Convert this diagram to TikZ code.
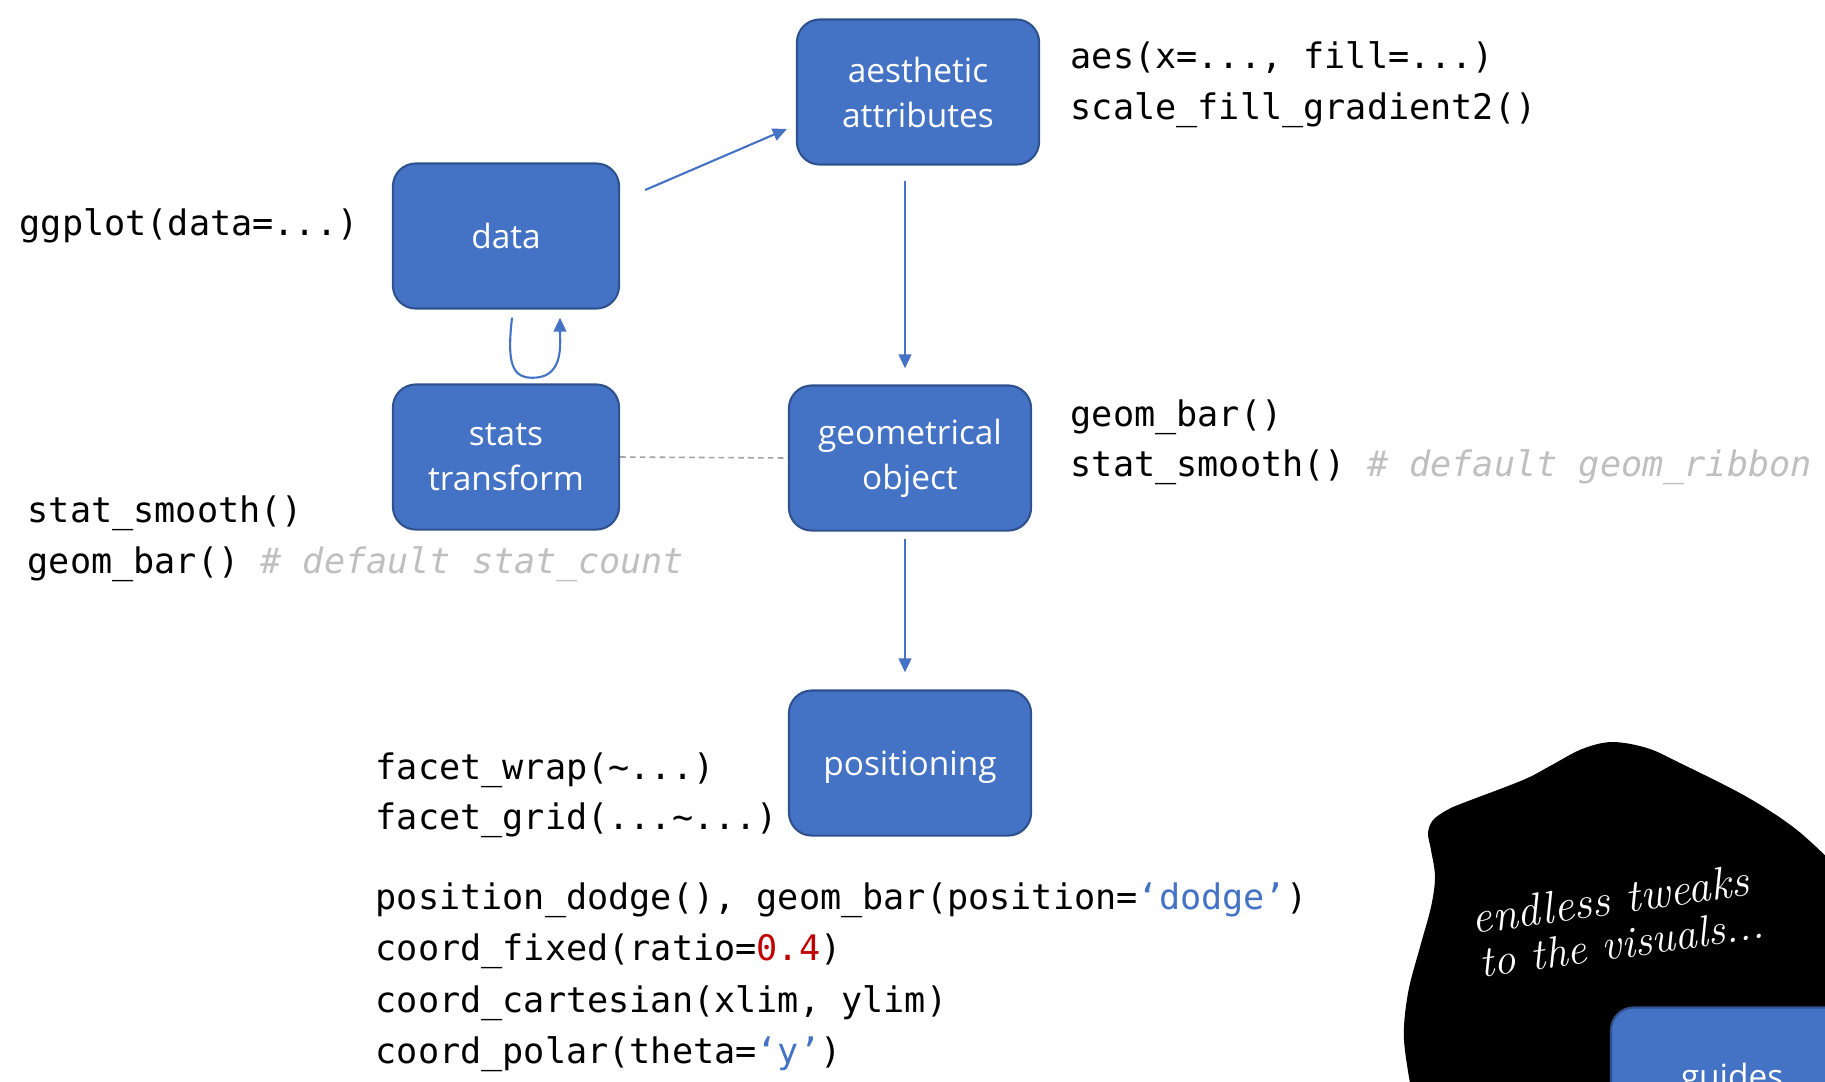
\documentclass[tikz,border=0pt]{standalone}
\usepackage{fontspec}
\setmonofont{DejaVu Sans Mono}
\newfontfamily\boxfamily{Open Sans}
\usepackage{xcolor}
\usetikzlibrary{arrows.meta}

\definecolor{boxblue}{HTML}{4472C4}
\definecolor{boxedge}{HTML}{2F528F}
\definecolor{commentgray}{HTML}{BFBFBF}
\definecolor{numred}{HTML}{C00000}

\newcommand{\codecomment}[1]{\textcolor{commentgray}{\itshape\#~#1}}

\tikzset{
  stage/.style={draw=boxedge, fill=boxblue, line width=0.6pt, rounded corners=6.5pt,
    text=white, align=center, font=\boxfamily\fontsize{9.5}{12.8}\selectfont,
    minimum width=2.42cm, minimum height=1.45cm, inner sep=0pt},
  code/.style={anchor=base west, inner sep=0pt, font=\ttfamily\fontsize{10}{12}\selectfont},
  flow/.style={draw=boxblue, line width=0.6pt, -{Triangle[length=4pt,width=3.6pt]}},
  hand/.style={anchor=base west, inner sep=0pt, text=white, rotate=8,
    font=\itshape\fontsize{13}{13}\selectfont},
}

\begin{document}
\begin{tikzpicture}[x=0.01cm, y=-0.01cm]
\useasboundingbox (0,0) rectangle (1825,1081);
\clip (0,0) rectangle (1825,1081);

% BLOB IN THE CORNER
\fill[black] plot[smooth, tension=0.55] coordinates {(1413,1100) (1404,1040) (1408,993)
  (1420,947) (1431,907) (1435,877) (1431,850) (1428,833) (1433,820) (1447,810) (1463,803)
  (1523,780) (1550,766) (1582,749) (1612,742) (1647,748) (1680,763) (1747,797) (1797,830)
  (1840,870)} -- (1900,870) -- (1900,1100) -- cycle;
\node[hand] (tweaks) at (1473,934) {endless tweaks};
\node[hand, font=\itshape\fontsize{12.5}{13}\selectfont] (visuals) at (1481,978) {to the visuals...};

% BOXES
\node[stage] (aes) at (918,92) {aesthetic\\attributes};
\node[stage, minimum width=2.26cm] (data) at (506,236) {data};
\node[stage, minimum width=2.26cm] (stats) at (506,457) {stats\\transform};
\node[stage] (geom) at (910,458) {geometrical\\object};
\node[stage, text depth=0pt] (pos) at (910,763) {positioning};
\node[stage] (guides) at (1732,1080) {guides};

% CONNECTORS
\draw[flow] ([shift={(25,-46)}]data.east) -- ([shift={(-9,37)}]aes.west);
\draw[flow] ([shift={(-13,15)}]aes.south) -- ([shift={(-5,-16)}]geom.north);
\draw[flow] ([shift={(-5,7)}]geom.south) -- ([shift={(-5,-17)}]pos.north);
\draw[flow] ([shift={(6,8)}]data.south) .. controls +(-5,45) and +(-25,2) .. ([shift={(30,68)}]data.south)
  .. controls +(28,-2) and +(0,25) .. ([shift={(54,8)}]data.south);
\draw[commentgray!85!black, line width=0.45pt, dash pattern=on 1.6pt off 1.2pt] (stats.east) -- (geom.west);

% CODE NEXT TO THE BOXES
\node[code] (ggplotcode) at (19,235) {ggplot(data=...)};
\node[code] (aescode) at (1070,68) {aes(x=..., fill=...)};
\node[code] (scalecode) at (1070,119) {scale\_fill\_gradient2()};
\node[code] (geombarcode) at (1070,426) {geom\_bar()};
\node[code] (ribboncode) at (1070,476) {stat\_smooth() \codecomment{default geom\_ribbon}};
\node[code] (smoothcode) at (27,522) {stat\_smooth()};
\node[code] (countcode) at (27,573) {geom\_bar() \codecomment{default stat\_count}};
\node[code] (wrapcode) at (375,779) {facet\_wrap(\textasciitilde...)};
\node[code] (gridcode) at (375,829) {facet\_grid(...\textasciitilde...)};
\node[code] (dodgecode) at (375,909) {position\_dodge(), geom\_bar(position=\textcolor{boxblue}{‘dodge’})};
\node[code] (fixedcode) at (375,960) {coord\_fixed(ratio=\textcolor{numred}{0.4})};
\node[code] (cartesiancode) at (375,1012) {coord\_cartesian(xlim, ylim)};
\node[code] (polarcode) at (375,1063) {coord\_polar(theta=\textcolor{boxblue}{‘y’})};
\end{tikzpicture}
\end{document}
